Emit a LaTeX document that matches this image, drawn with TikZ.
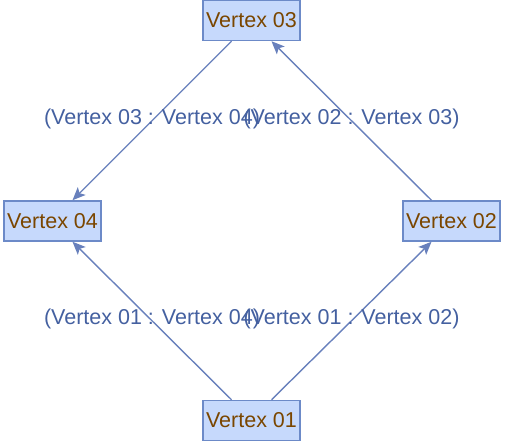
\documentclass[tikz,border=0pt]{standalone}
\usepackage{fontspec}
\setmainfont{Liberation Sans}
\usetikzlibrary{arrows.meta}
\definecolor{nodefill}{RGB}{198,217,252}
\definecolor{nodeline}{RGB}{108,138,200}
\definecolor{nodetext}{RGB}{122,70,0}
\definecolor{edgecol}{RGB}{104,128,188}
\definecolor{lblcol}{RGB}{68,96,160}
\tikzset{
  vtx/.style={draw=nodeline, line width=1.5pt, fill=nodefill, text=nodetext,
    minimum width=97pt, minimum height=40pt, inner sep=0pt,
    font=\fontsize{21.5}{24}\selectfont},
  edge/.style={draw=edgecol, line width=1.4pt,
    -{Stealth[length=13pt,width=11pt,inset=3pt]}},
  lbl/.style={text=lblcol, font=\fontsize{21.5}{24}\selectfont, inner sep=0pt, yshift=1.5pt}
}
\begin{document}
\begin{tikzpicture}[x=1pt,y=-1pt]
\useasboundingbox (0,0) rectangle (505,443);
\node[vtx] (v03) at (251.5,20.5) {Vertex 03};
\node[vtx] (v04) at (52.5,221) {Vertex 04};
\node[vtx] (v02) at (451.5,221) {Vertex 02};
\node[vtx] (v01) at (251.5,420.5) {Vertex 01};
\draw[edge] ([xshift=-20pt]v01.north) -- ([xshift=20pt]v04.south)
  node[midway, lbl] {(Vertex 01 : Vertex 04)};
\draw[edge] ([xshift=20pt]v01.north) -- ([xshift=-20pt]v02.south)
  node[midway, lbl] {(Vertex 01 : Vertex 02)};
\draw[edge] ([xshift=-20pt]v02.north) -- ([xshift=20pt]v03.south)
  node[midway, lbl] {(Vertex 02 : Vertex 03)};
\draw[edge] ([xshift=-20pt]v03.south) -- ([xshift=20pt]v04.north)
  node[midway, lbl] {(Vertex 03 : Vertex 04)};
\end{tikzpicture}
\end{document}
